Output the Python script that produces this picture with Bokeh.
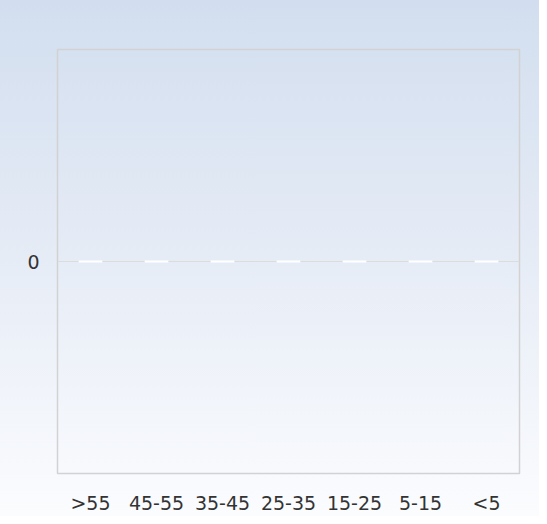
from bokeh.plotting import figure
from bokeh.models import FactorRange, Range1d, FixedTicker
from bokeh.embed import file_html
from bokeh.resources import INLINE

categories = [">55", "45-55", "35-45", "25-35", "15-25", "5-15", "<5"]
values = [0, 0, 0, 0, 0, 0, 0]
y_ticks = [0]

p = figure(
    x_range=FactorRange(*categories, range_padding=0),
    y_range=Range1d(-1, 1),
    width=539, height=516,
    output_backend="svg", toolbar_location=None,
    min_border_left=57, min_border_right=20,
    min_border_top=49, min_border_bottom=40,
)
p.styles = {"background": "linear-gradient(to bottom, #d2deef 0%, #e6ecf6 50%, #fbfcfe 100%)"}
p.border_fill_alpha = 0
p.background_fill_alpha = 0
p.outline_line_color = "#d2d2d2"
p.outline_line_width = 1.5

p.vbar(x=categories, top=values, bottom=0, width=0.36,
       fill_alpha=0, line_color="white", line_width=2)

p.xgrid.visible = False
p.ygrid.ticker = FixedTicker(ticks=y_ticks)
p.ygrid.grid_line_color = "#dcdcdc"
p.ygrid.grid_line_width = 1
p.ygrid.level = "underlay"

for ax in (p.xaxis[0], p.yaxis[0]):
    ax.axis_line_color = None
    ax.major_tick_line_color = None
    ax.minor_tick_line_color = None
    ax.major_tick_out = 0
    ax.major_tick_in = 0
    ax.major_label_text_font = "DejaVu Sans"
    ax.major_label_text_font_size = "19px"
    ax.major_label_text_color = "#333333"
    ax.major_label_standoff = 18

p.yaxis.ticker = FixedTicker(ticks=y_ticks)

open("out.html", "w").write(file_html(p, INLINE))
